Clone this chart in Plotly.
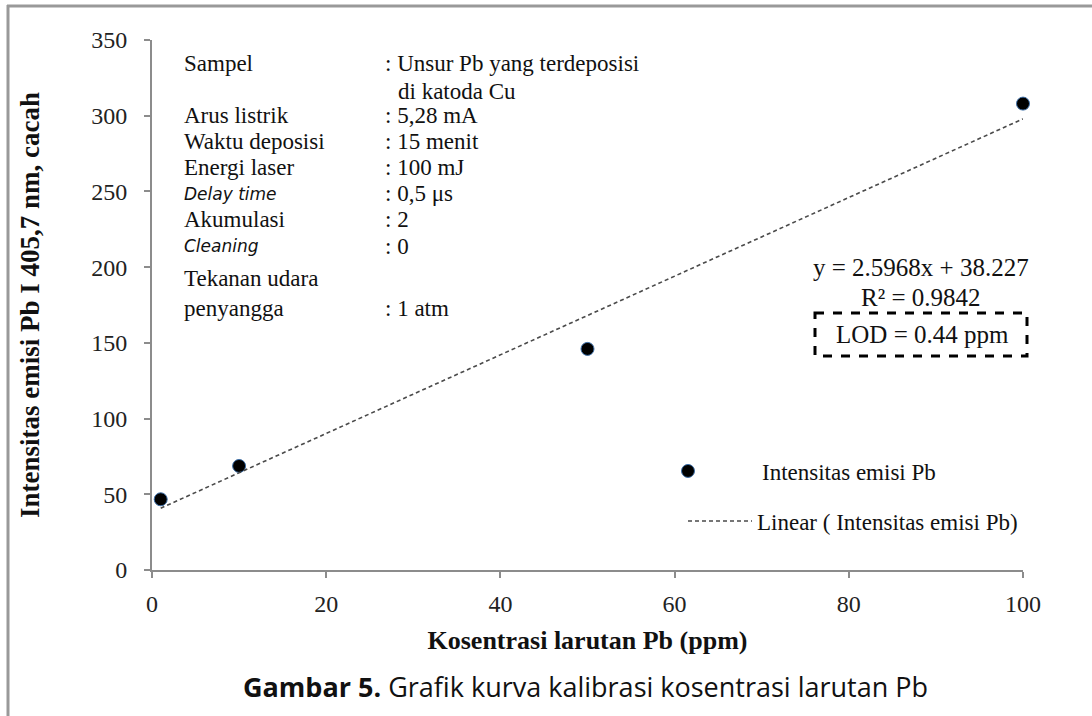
import plotly.graph_objects as go

# ---- data ----
konsentrasi = [1, 10, 50, 100]          # ppm
intensitas = [46.7, 68.7, 146, 308]      # cacah
slope = 2.5968
intercept = 38.227
r2 = 0.9842
lod = 0.44
x_ticks = [0, 20, 40, 60, 80, 100]
y_ticks = [0, 50, 100, 150, 200, 250, 300, 350]

info_labels = ["Sampel", "", "Arus listrik", "Waktu deposisi", "Energi laser",
               "<i>Delay time</i>", "Akumulasi", "<i>Cleaning</i>", "Tekanan udara", "penyangga"]
info_values = [": Unsur Pb yang terdeposisi", "di katoda Cu", ": 5,28 mA", ": 15 menit",
               ": 100 mJ", ": 0,5 μs", ": 2", ": 0", "", ": 1 atm"]
info_italic = [False, False, False, False, False, True, False, True, False, False]

# ---- layout geometry (pixels) ----
W, H = 1092, 716
L, R, T, B = 152, 1023, 40, 570


def px(x):
    return (x - L) / (R - L)


def py(y):
    return 1 - (y - T) / (B - T)


fit_x = [konsentrasi[0], konsentrasi[-1]]
fit_y = [slope * v + intercept for v in fit_x]

SERIF = "Liberation Serif, Times New Roman, serif"
AXIS_COL = "#8c8c8c"

fig = go.Figure()
fig.add_trace(go.Scatter(
    x=konsentrasi, y=intensitas, mode="markers", name="Intensitas emisi Pb",
    marker=dict(color="black", size=13, line=dict(color="#3d6fa8", width=1)),
    cliponaxis=False, legend="legend"))
fig.add_trace(go.Scatter(
    x=fit_x, y=fit_y, mode="lines", name="Linear ( Intensitas emisi Pb)",
    line=dict(color="#4a4a4a", width=1.6, dash="4px,3px"),
    legend="legend2"))

annotations = []
row_y = [63, 92, 116, 142, 168, 194, 220, 246, 278, 308]
for lab, val, it, yy in zip(info_labels, info_values, info_italic, row_y):
    if lab:
        annotations.append(dict(
            x=px(182), y=py(yy), xref="paper", yref="paper", text=lab,
            showarrow=False, xanchor="left", yanchor="middle",
            font=dict(family="DejaVu Sans" if it else SERIF,
                      size=17 if it else 23, color="#111")))
    if val:
        annotations.append(dict(
            x=px(396 if val.startswith("di") else 383), y=py(yy), xref="paper", yref="paper",
            text=val, showarrow=False, xanchor="left", yanchor="middle",
            font=dict(family=SERIF, size=23, color="#111")))

annotations += [
    dict(x=px(921), y=py(267), xref="paper", yref="paper", xanchor="center", yanchor="middle",
         text=f"y = {slope}x + {intercept}", showarrow=False,
         font=dict(family=SERIF, size=25, color="#111")),
    dict(x=px(921), y=py(297), xref="paper", yref="paper", xanchor="center", yanchor="middle",
         text=f"R² = {r2}", showarrow=False,
         font=dict(family=SERIF, size=25, color="#111")),
    dict(x=px(922), y=py(334), xref="paper", yref="paper", xanchor="center", yanchor="middle",
         text=f"LOD = {lod} ppm", showarrow=False,
         font=dict(family=SERIF, size=25, color="#111")),
    dict(x=px(585), y=py(686), xref="paper", yref="paper", xanchor="center", yanchor="middle",
         text="<b>Gambar 5.</b> Grafik kurva kalibrasi kosentrasi larutan Pb",
         showarrow=False, font=dict(family="Open Sans, sans-serif", size=27, color="#111")),
]

shapes = [
    dict(type="rect", xref="paper", yref="paper", x0=px(815), x1=px(1027),
         y0=py(313), y1=py(356), line=dict(color="black", width=3, dash="dash")),
    dict(type="line", xref="paper", yref="paper", x0=px(8), x1=px(8),
         y0=py(5), y1=py(720), line=dict(color="#999999", width=3)),
    dict(type="line", xref="paper", yref="paper", x0=px(7), x1=px(1100),
         y0=py(6), y1=py(6), line=dict(color="#999999", width=3)),
]

LEG_FONT = dict(family=SERIF, size=23, color="#111")
fig.update_layout(
    width=W, height=H,
    margin=dict(l=L, r=W - R, t=T, b=H - B),
    paper_bgcolor="white", plot_bgcolor="white",
    showlegend=True,
    legend=dict(x=px(688 - 74), y=py(471), xanchor="left", yanchor="middle",
                font=LEG_FONT, bgcolor="rgba(0,0,0,0)", itemwidth=138),
    legend2=dict(x=px(757 - 74), y=py(521), xanchor="left", yanchor="middle",
                 font=LEG_FONT, bgcolor="rgba(0,0,0,0)", itemwidth=64),
    annotations=annotations, shapes=shapes,
)
fig.update_xaxes(
    range=[0, 100], tickvals=x_ticks, ticktext=[str(v) for v in x_ticks],
    showgrid=False, zeroline=False, showline=True, linecolor=AXIS_COL, linewidth=2,
    ticks="outside", ticklen=6, tickwidth=2, tickcolor=AXIS_COL, ticklabelstandoff=5,
    tickfont=dict(family=SERIF, size=24, color="#222"),
    title=dict(text="<b>Kosentrasi larutan Pb (ppm)</b>", standoff=15,
               font=dict(family=SERIF, size=26, color="#111")))
fig.update_yaxes(
    range=[0, 350], tickvals=y_ticks, ticktext=[str(v) for v in y_ticks],
    showgrid=False, zeroline=False, showline=True, linecolor=AXIS_COL, linewidth=2,
    ticks="outside", ticklen=6, tickwidth=2, tickcolor=AXIS_COL, ticklabelstandoff=12,
    tickfont=dict(family=SERIF, size=24, color="#222"),
    title=dict(text="<b>Intensitas emisi Pb I 405,7 nm, cacah</b>", standoff=44,
               font=dict(family=SERIF, size=27, color="#111")))

fig.write_html("out.html", config={"displayModeBar": False},
               post_script="document.body.style.margin='0px';")
